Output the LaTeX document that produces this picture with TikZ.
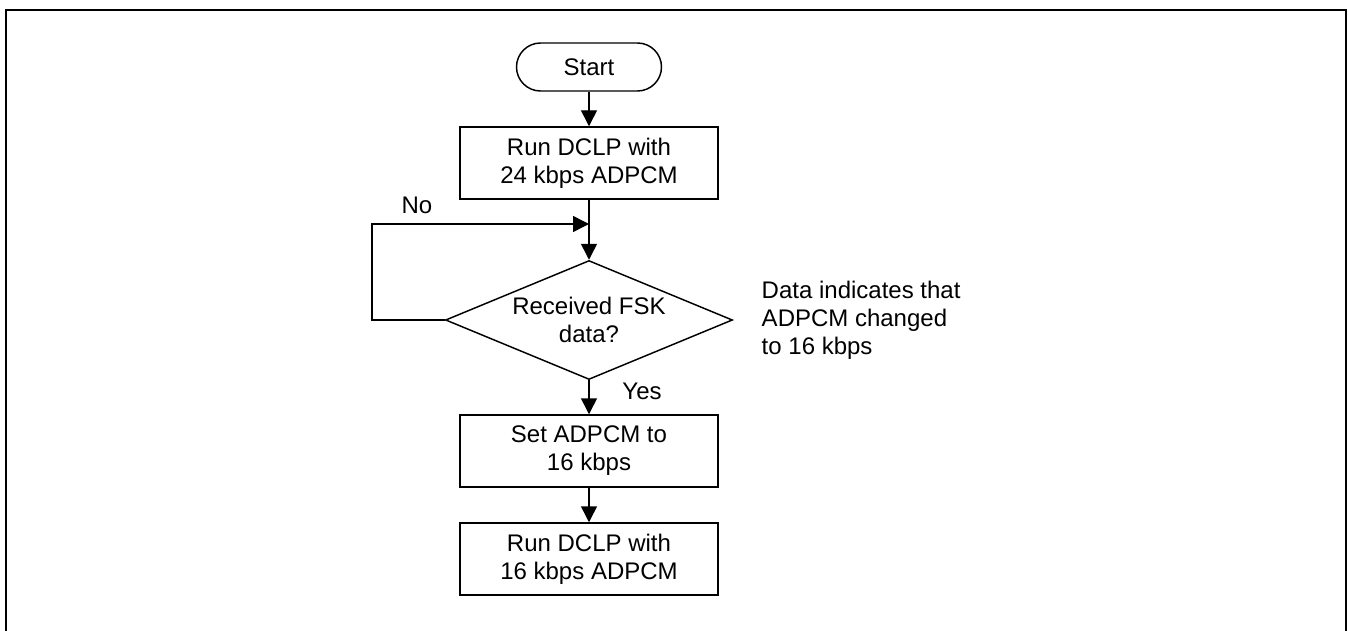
\documentclass[tikz,border=0pt]{standalone}
\usepackage{fontspec}
\setmainfont{Liberation Sans}
\usetikzlibrary{shapes.geometric,arrows.meta}

\tikzset{every picture/.style={line width=1.1pt}}
\tikzset{
  txt/.style={inner sep=0.75pt,font=\fontsize{18}{21}\selectfont,align=center},
  terminal/.style={txt,draw,rounded corners=18pt,minimum width=108.75pt,minimum height=36pt},
  procbox/.style={txt,draw,minimum width=193.5pt,minimum height=54pt},
  decision/.style={txt,draw,diamond,shape aspect=2.4,inner sep=0pt,minimum width=215.25pt,minimum height=89.25pt},
  flow/.style={-{Triangle[length=12pt,width=12pt]}}
}

\begin{document}
\begin{tikzpicture}[x=0.75pt,y=0.75pt,yscale=-1,xscale=1]
\useasboundingbox (0,0) rectangle (1348,631);

%Frame
\draw [line width=1.9pt] (6,631) -- (6,10) -- (1346,10) -- (1346,631) ;

%Shape: Terminal [id:start]
\node [terminal] (start) at (589,67) {Start};
%Shape: Rectangle [id:run24]
\node [procbox] (run24) at (589,163) {Run DCLP with\\24 kbps ADPCM};
%Shape: Diamond [id:fsk]
\node [decision] (fsk) at (589,320) {Received FSK\\data?};
%Shape: Rectangle [id:set16]
\node [procbox] (set16) at (589,451) {Set ADPCM to\\16 kbps};
%Shape: Rectangle [id:run16]
\node [procbox] (run16) at (589,559) {Run DCLP with\\16 kbps ADPCM};

%Straight Lines
\draw [flow] (start) -- (run24) ;
\draw [flow] (run24) -- (fsk) ;
\draw [flow] (fsk) -- (set16) ;
\draw [flow] (set16) -- (run16) ;
%Loop back (No)
\coordinate (back) at (589,224) ;
\draw [flow] (fsk.west) -- ++(-73,0) |- (back) ;

% Text Node
\node [txt] (no) at (417,205) {No};
% Text Node
\node [txt] (yes) at (642,391) {Yes};
% Text Node
\node [txt,anchor=west,align=left] (note) at (760,320) {Data indicates that\\ADPCM changed\\to 16 kbps};

\end{tikzpicture}
\end{document}
